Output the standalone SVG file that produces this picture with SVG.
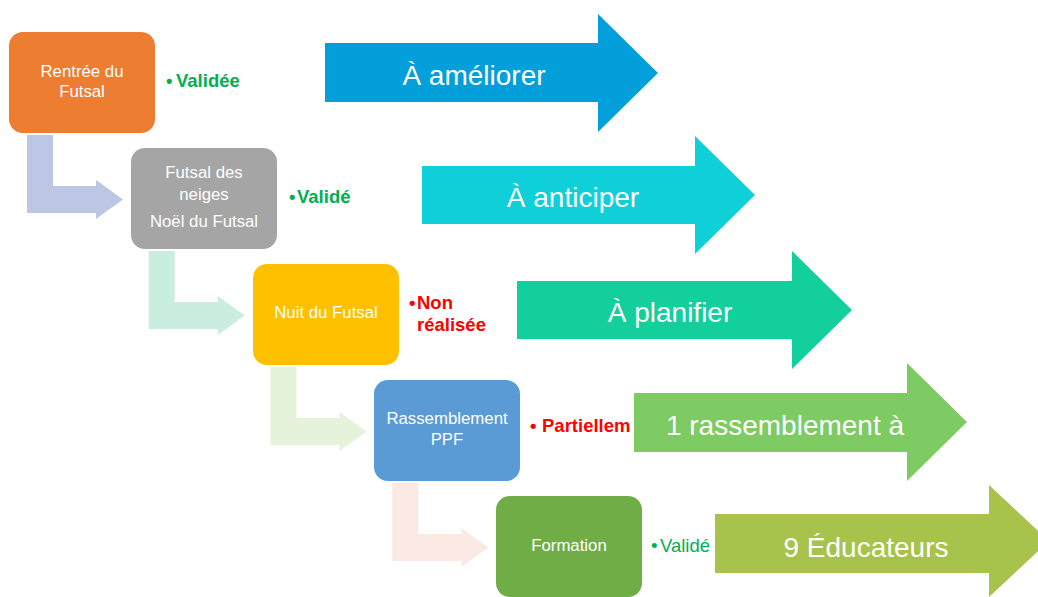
<svg xmlns="http://www.w3.org/2000/svg" width="1038" height="597" viewBox="0 0 1038 597">
<style>
.box-t{font-family:"Liberation Sans",Arial,sans-serif;font-size:16.8px;fill:#FFFFFF;text-anchor:middle}
.lbl{font-family:"Liberation Sans",Arial,sans-serif;font-size:18.5px;font-weight:bold}
.lbl-r{font-family:"Liberation Sans",Arial,sans-serif;font-size:18.5px}
.green{fill:#00B050}
.red{fill:#FF0000}
.big-t{font-family:"Liberation Sans",Arial,sans-serif;font-size:28px;fill:#FFFFFF;text-anchor:middle}
</style>
<defs>
<path id="bent" d="M27,135 H53 V186 H96 V180 L123,199.5 L96,219 V213 H27 Z"/>
</defs>
<rect width="1038" height="597" fill="#FFFFFF"/>
<g id="connectors">
<use href="#bent" fill="#BDC7E5"/>
<use href="#bent" fill="#C9EEDF" transform="translate(121.75,116)"/>
<use href="#bent" fill="#E5F3DA" transform="translate(243.5,232)"/>
<use href="#bent" fill="#FBE9E4" transform="translate(365.25,348)"/>
</g>
<g id="node-rentree">
<rect x="9" y="32" width="146" height="101" rx="14" fill="#ED7D31"/>
<text class="box-t" x="82" y="77">Rentrée du</text>
<text class="box-t" x="82" y="97">Futsal</text>
</g>
<g id="node-neiges">
<rect x="131" y="148" width="146" height="101" rx="14" fill="#A5A5A5"/>
<text class="box-t" x="204" y="178">Futsal des</text>
<text class="box-t" x="204" y="200">neiges</text>
<text class="box-t" x="204" y="227">Noël du Futsal</text>
</g>
<g id="node-nuit">
<rect x="253" y="264" width="146" height="101" rx="14" fill="#FFC000"/>
<text class="box-t" x="326" y="318">Nuit du Futsal</text>
</g>
<g id="node-rassemblement">
<rect x="374" y="380" width="146" height="101" rx="14" fill="#5B9BD5"/>
<text class="box-t" x="447" y="424">Rassemblement</text>
<text class="box-t" x="447" y="445">PPF</text>
</g>
<g id="node-formation">
<rect x="496" y="496" width="146" height="101" rx="14" fill="#70AD47"/>
<text class="box-t" x="569" y="551">Formation</text>
</g>
<g id="status-labels">
<text class="lbl green" x="166" y="87">•</text><text class="lbl green" x="176" y="87">Validée</text>
<text class="lbl green" x="289" y="203">•</text><text class="lbl green" x="297" y="203">Validé</text>
<text class="lbl red" x="409" y="309">•</text><text class="lbl red" x="417" y="309">Non</text>
<text class="lbl red" x="417" y="331">réalisée</text>
<text class="lbl red" x="530" y="432">•</text><text class="lbl red" x="542" y="432">Partiellem</text>
<text class="lbl-r green" x="651" y="552">•</text><text class="lbl-r green" x="660" y="552">Validé</text>
</g>
<g id="arrow-ameliorer">
<polygon points="325,43 598,43 598,14 658,73 598,132 598,102 325,102" fill="#039FDA"/>
<text class="big-t" x="474" y="85">À améliorer</text>
</g>
<g id="arrow-anticiper">
<polygon points="422,166 695,166 695,136 755,195 695,254 695,224 422,224" fill="#0FD0D9"/>
<text class="big-t" x="573" y="207">À anticiper</text>
</g>
<g id="arrow-planifier">
<polygon points="517,281 792,281 792,251 852,310 792,369 792,339 517,339" fill="#13CF9B"/>
<text class="big-t" x="670" y="322">À planifier</text>
</g>
<g id="arrow-rassemblement">
<polygon points="634,393 907,393 907,363 967,422 907,481 907,452 634,452" fill="#7DCB62"/>
<text class="big-t" x="785" y="435">1 rassemblement à</text>
</g>
<g id="arrow-educateurs">
<polygon points="715,514 989,514 989,485 1049,541 989,597 989,573 715,573" fill="#A7C34B"/>
<text class="big-t" x="866" y="557">9 Éducateurs</text>
</g>
</svg>
